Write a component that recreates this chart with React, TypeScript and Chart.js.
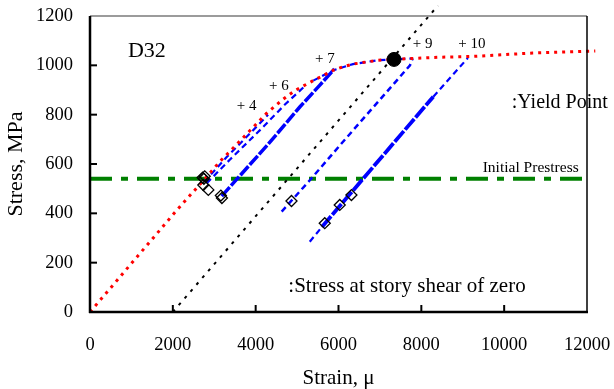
import React, { useEffect, useRef } from "react";
import { Chart, registerables } from "chart.js";

Chart.register(...registerables);

// ---- axis ticks ----
const xTickValues = [0, 2000, 4000, 6000, 8000, 10000, 12000];
const yTickValues = [0, 200, 400, 600, 800, 1000, 1200];

// ---- envelope (red dotted) ----
const envStrain = [0, 500, 1000, 1500, 2000, 2400, 2775, 3135, 3500, 3900, 4260, 4660, 4950, 5390, 5670, 5870, 6110, 6350, 6920, 7400, 8440, 9240, 10690, 12200];
const envStress = [0, 98, 197, 295, 394, 470, 540, 610, 672, 742, 805, 862, 898, 938, 962, 980, 994, 1005, 1020, 1025, 1033, 1036, 1050, 1058];

// ---- blue unloading / reloading branches ----
const loop4Strain = [2760, 3300, 3900, 4300];
const loop4Stress = [528, 628, 730, 800];
const loop6Strain = [2817, 3380, 4145, 4700, 5150];
const loop6Stress = [522, 618, 744, 840, 910];
const loop7Strain = [3180, 4300, 5060, 5550, 5900];
const loop7Stress = [470, 680, 830, 920, 985];
const reloadStrain = [5390, 5870, 6350, 6920, 7400, 7800];
const reloadStress = [938, 980, 1005, 1020, 1025, 1028];
const loop9Strain = [4628, 5312, 6077, 7726, 7790];
const loop9Stress = [407, 535, 684, 1000, 1028];
const loop10Strain = [5306, 5600, 6277, 8289, 9125];
const loop10Stress = [285, 345, 478, 873, 1030];

// ---- stress at story shear of zero (diamonds) ----
const zeroShearStrain = [2720, 2750, 2770, 2736, 2857, 3160, 3185, 4865, 5668, 6030, 6312];
const zeroShearStress = [545, 540, 550, 515, 495, 472, 462, 450, 360, 434, 474];

// ---- yield point ----
const yieldStrain = [7340];
const yieldStress = [1024];

// ---- initial prestress ----
const prestressStrain = [0, 12000];
const prestressStress = [540, 540];

// ---- offset line (black dotted) ----
const offsetStrain = [2000, 8400];
const offsetStress = [0, 1242];

// ---- annotation texts ----
const noteTexts = ["D32", "+ 4", "+ 6", "+ 7", "+ 9", "+ 10", ":Yield Point", "Initial Prestress", ":Stress at story shear of zero"];
const noteStrain = [917, 3542, 4322, 5433, 7791, 8893, 10182, 9482, 4788];
const noteStress = [1035, 819, 900, 1008, 1069, 1069, 826, 569, 82];
const noteSizes = [22, 15, 15, 15, 15, 15, 20, 15.5, 21];

const pts = (xs: number[], ys: number[]) => xs.map((x, i) => ({ x, y: ys[i] }));

const SERIF = "'Liberation Serif', 'DejaVu Serif', serif";

const framePlugin = {
  id: "frame",
  afterDatasetsDraw(chart: any) {
    const { ctx, chartArea, scales } = chart;
    const { left, right, top, bottom } = chartArea;
    const xs = scales.x;
    const ys = scales.y;
    ctx.save();
    ctx.fillStyle = "#000";
    ctx.textAlign = "left";
    ctx.textBaseline = "alphabetic";
    noteTexts.forEach((t, i) => {
      ctx.font = `${noteSizes[i]}px ${SERIF}`;
      ctx.fillText(t, xs.getPixelForValue(noteStrain[i]), ys.getPixelForValue(noteStress[i]));
    });
    const line = (x1: number, y1: number, x2: number, y2: number) => {
      ctx.beginPath();
      ctx.moveTo(x1, y1);
      ctx.lineTo(x2, y2);
      ctx.stroke();
    };
    ctx.strokeStyle = "#7a7a7a";
    ctx.lineWidth = 1.5;
    line(left, top, right, top);
    ctx.strokeStyle = "#000";
    ctx.lineWidth = 1.5;
    line(right, top, right, bottom);
    ctx.lineWidth = 2.5;
    line(left, top, left, bottom + 1);
    line(left - 1, bottom, right + 1, bottom);
    ctx.lineWidth = 2;
    yTickValues.slice(1, -1).forEach((v) => {
      const py = ys.getPixelForValue(v);
      line(left, py, left + 7, py);
    });
    xTickValues.slice(1, -1).forEach((v) => {
      const px = xs.getPixelForValue(v);
      line(px, bottom, px, bottom - 7);
    });
    ctx.restore();
  },
};

export default function App() {
  const ref = useRef<HTMLCanvasElement | null>(null);

  useEffect(() => {
    if (!ref.current) return;
    const blue = "#0000ff";
    const thin = { borderColor: blue, borderWidth: 2.2, borderDash: [6, 4], pointRadius: 0, showLine: true, fill: false, order: 3 };
    const thick = { borderColor: blue, borderWidth: 3.5, borderDash: [12, 2], pointRadius: 0, showLine: true, fill: false, order: 3 };

    const chart = new Chart(ref.current, {
      type: "scatter",
      data: {
        datasets: [
          { data: pts(prestressStrain, prestressStress), borderColor: "#008000", borderWidth: 4, borderDash: [22, 9, 7, 9], pointRadius: 0, showLine: true, order: 6 } as any,
          { data: pts(offsetStrain, offsetStress), borderColor: "#000", borderWidth: 2, borderDash: [3, 6], pointRadius: 0, showLine: true, clip: false, order: 5 } as any,
          { data: pts(loop4Strain, loop4Stress), ...thin } as any,
          { data: pts(loop6Strain, loop6Stress), ...thin } as any,
          { data: pts(loop7Strain, loop7Stress), ...thick } as any,
          { data: pts(reloadStrain, reloadStress), ...thin } as any,
          { data: pts(loop9Strain, loop9Stress), ...thin, borderWidth: 2.5 } as any,
          {
            data: pts(loop10Strain, loop10Stress),
            ...thin,
            segment: {
              borderWidth: (c: any) => (c.p0DataIndex === 1 || c.p0DataIndex === 2 ? 3.8 : 2.2),
              borderDash: (c: any) => (c.p0DataIndex === 1 || c.p0DataIndex === 2 ? [14, 2] : [6, 4]),
            },
          } as any,
          { data: pts(envStrain, envStress), borderColor: "#ff0000", borderWidth: 3, borderDash: [3, 5], pointRadius: 0, showLine: true, clip: false, order: 2 } as any,
          { data: pts(zeroShearStrain, zeroShearStress), showLine: false, pointStyle: "rectRot", pointRadius: 5.5, borderColor: "#000", borderWidth: 1.3, backgroundColor: "rgba(0,0,0,0)", order: 1 } as any,
          { data: pts(yieldStrain, yieldStress), showLine: false, pointStyle: "circle", pointRadius: 7, borderColor: "#000", backgroundColor: "#000", order: 0 } as any,
        ],
      },
      options: {
        animation: false,
        responsive: false,
        maintainAspectRatio: false,
        layout: { padding: { left: 0, right: 27, top: 16, bottom: 0 } },
        plugins: { legend: { display: false }, tooltip: { enabled: false } },
        scales: {
          x: {
            type: "linear",
            min: xTickValues[0],
            max: xTickValues[xTickValues.length - 1],
            afterBuildTicks: (s: any) => { s.ticks = xTickValues.map((v) => ({ value: v })); },
            afterFit: (s: any) => { s.height = 77; s.paddingLeft = 0; s.paddingRight = 0; s.paddingTop = 0; s.paddingBottom = 0; },
            grid: { display: false, drawTicks: false },
            border: { display: false },
            ticks: { color: "#000", padding: 22, maxRotation: 0, autoSkip: false, font: { family: SERIF, size: 18.5 }, callback: (v: any) => String(v) },
            title: { display: true, text: "Strain, μ", color: "#000", padding: 0, font: { family: SERIF, size: 21, lineHeight: 1 } },
          },
          y: {
            type: "linear",
            min: yTickValues[0],
            max: yTickValues[yTickValues.length - 1],
            afterBuildTicks: (s: any) => { s.ticks = yTickValues.map((v) => ({ value: v })); },
            afterFit: (s: any) => { s.width = 90; s.paddingLeft = 0; s.paddingRight = 0; s.paddingTop = 0; s.paddingBottom = 0; },
            grid: { display: false, drawTicks: false },
            border: { display: false },
            ticks: { color: "#000", padding: 17, autoSkip: false, font: { family: SERIF, size: 18.5 }, callback: (v: any) => String(v) },
            title: { display: true, text: "Stress, MPa", color: "#000", padding: { top: 5.5, bottom: 0 }, font: { family: SERIF, size: 22, lineHeight: 1 } },
          },
        },
      } as any,
      plugins: [framePlugin],
    });
    return () => chart.destroy();
  }, []);

  return (
    <div style={{ position: "absolute", left: 0, top: 0, width: 614, height: 389, background: "#fff" }}>
      <canvas ref={ref} width={614} height={389} style={{ display: "block", width: 614, height: 389 }} />
    </div>
  );
}
